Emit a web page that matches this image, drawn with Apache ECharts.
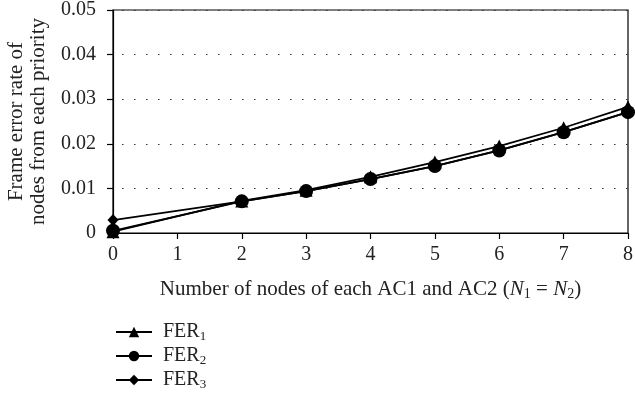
<!DOCTYPE html>
<html>
<head>
<meta charset="utf-8">
<script src="https://cdn.jsdelivr.net/npm/echarts@6/dist/echarts.min.js"></script>
<style>
html,body{margin:0;padding:0;background:#fff;}
#chart{width:635px;height:400px;}
</style>
</head>
<body>
<div id="chart"></div>
<script>
// Data
const xValues = [0, 2, 3, 4, 5, 6, 7, 8];
const fer1 = [0.0003, 0.0072, 0.0096, 0.0126, 0.0159, 0.0195, 0.0236, 0.0283];
const fer2 = [0.0005, 0.0071, 0.0094, 0.0121, 0.0150, 0.0185, 0.0226, 0.0271];
const fer3 = [0.0029, 0.0071, 0.0094, 0.0121, 0.0150, 0.0185, 0.0226, 0.0271];
const seriesNames = ['FER1', 'FER2', 'FER3'];
const yTicks = ['0', '0.01', '0.02', '0.03', '0.04', '0.05'];

const FONT = 'Liberation Serif';
const subStyle = { fontFamily: FONT, fontSize: 13, color: '#222', padding: [9, 0, 0, 0] };
const subStyleName = { fontFamily: FONT, fontSize: 14, color: '#222', padding: [9, 0, 0, 0] };
const italStyle = { fontFamily: FONT, fontSize: 21, fontStyle: 'italic', color: '#222' };

function pairs(vals) { return xValues.map((x, i) => [x, vals[i]]); }

const chart = echarts.init(document.getElementById('chart'), null, { renderer: 'canvas' });
const common = {
  type: 'line',
  color: '#000',
  lineStyle: { color: '#000', width: 1.8 },
  itemStyle: { color: '#000' },
  showSymbol: true,
  animation: false
};
chart.setOption({
  animation: false,
  backgroundColor: '#fff',
  grid: {
    left: 113, right: 7, top: 10, bottom: 167,
    containLabel: false,
    outerBoundsMode: 'none',
    show: true, borderColor: '#000', borderWidth: 1.2
  },
  xAxis: {
    type: 'value', min: 0, max: 8, interval: 1,
    axisLine: { show: true, lineStyle: { color: '#000', width: 1.2 } },
    axisTick: { show: true, inside: false, length: 6, lineStyle: { color: '#000', width: 1.2 } },
    axisLabel: { fontFamily: FONT, fontSize: 20, color: '#222', margin: 12 },
    splitLine: { show: false },
    name: 'Number of nodes of each AC1 and AC2 ({i|N}{s|1} = {i|N}{s|2})',
    nameLocation: 'middle',
    nameGap: 45,
    nameTextStyle: {
      fontFamily: FONT, fontSize: 21, color: '#222',
      rich: { i: italStyle, s: subStyleName }
    }
  },
  yAxis: {
    type: 'value', min: 0, max: 0.05, interval: 0.01,
    axisLine: { show: true, lineStyle: { color: '#000', width: 1.2 } },
    axisTick: { show: true, inside: false, length: 6, lineStyle: { color: '#000', width: 1.2 } },
    axisLabel: {
      fontFamily: FONT, fontSize: 20, color: '#222', margin: 17,
      formatter: (v) => yTicks[Math.round(v / 0.01)]
    },
    splitLine: {
      show: true,
      lineStyle: { color: '#333', width: 1.2, type: [1.5, 10.5], dashOffset: -9 }
    },
    name: 'Frame error rate of\nnodes from each priority',
    nameLocation: 'middle',
    nameGap: 64,
    nameRotate: 90,
    nameTextStyle: { fontFamily: FONT, fontSize: 21, color: '#222', lineHeight: 22 }
  },
  legend: {
    orient: 'vertical',
    left: 115, top: 322, padding: 0,
    itemWidth: 36, itemHeight: 13, itemGap: 3,
    data: seriesNames,
    formatter: (n) => 'FER{s|' + n.slice(3) + '}',
    textStyle: {
      fontFamily: FONT, fontSize: 20, color: '#222', padding: [0, 0, 0, 6],
      rich: { s: subStyle }
    }
  },
  series: [
    Object.assign({}, common, { name: seriesNames[2], data: pairs(fer3), symbol: 'diamond', symbolSize: [11, 12] }),
    Object.assign({}, common, { name: seriesNames[0], data: pairs(fer1), symbol: 'triangle', symbolSize: 13 }),
    Object.assign({}, common, { name: seriesNames[1], data: pairs(fer2), symbol: 'circle', symbolSize: 14 })
  ]
});
</script>
</body>
</html>
